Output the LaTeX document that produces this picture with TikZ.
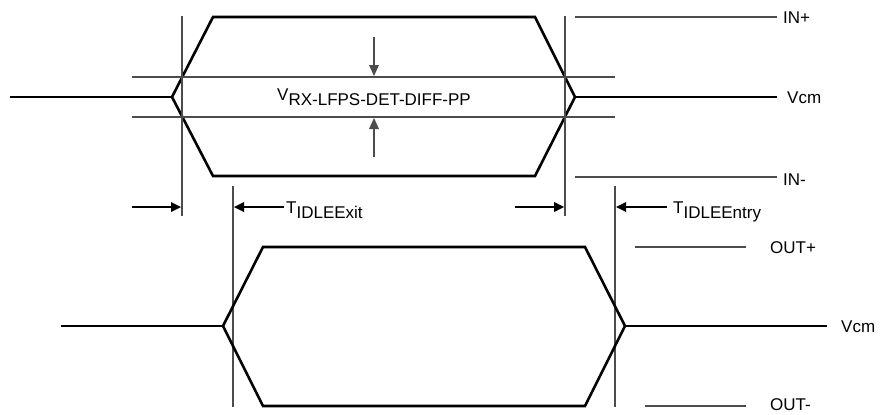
\documentclass[tikz,border=0pt]{standalone}
\usepackage{fontspec}
\setmainfont{Liberation Sans}
\newcommand{\sublow}[1]{\raisebox{-5pt}{#1}}

\begin{document}
\begin{tikzpicture}[x=1pt,y=1pt]
\tikzstyle{every node}+=[inner sep=0pt,font=\fontsize{17}{20}\selectfont]
\tikzstyle{wave}=[black,line width=2.6pt]
\tikzstyle{guide}=[black!70,line width=1.1pt]
\useasboundingbox (0,0) rectangle (881,-415);
% input pair
\draw [wave] (172,-97) -- (213,-17) -- (535,-17) -- (575,-97) -- (535,-176) -- (213,-176) -- cycle;
\draw [wave] (10,-97) -- (172,-97);
\draw [wave] (575,-97) -- (777,-97);
\draw [guide] (575,-17) -- (777,-17);
\draw [guide] (575,-177) -- (777,-177);
\draw [guide] (132,-77) -- (615,-77);
\draw [guide] (132,-117) -- (615,-117);
\draw (783,-18) node [right] (inp) {IN+};
\draw (787,-98) node [right] (vcmin) {Vcm};
\draw (783,-180) node [right] (inn) {IN-};
\draw [guide] (374,-37) -- (374,-66);
\fill [black!70] (374,-76) -- (369,-65) -- (379,-65);
\draw [guide] (374,-157) -- (374,-128);
\fill [black!70] (374,-118) -- (369,-129) -- (379,-129);
\draw (277,-100) node [anchor=base west] (vth) {V\sublow{RX-LFPS-DET-DIFF-PP}};
% time markers
\draw [guide] (182,-16) -- (182,-216);
\draw [guide] (565,-16) -- (565,-216);
\draw [guide] (233,-186) -- (233,-407);
\draw [guide] (615,-186) -- (615,-407);
\draw [black,line width=1.1pt] (132,-207) -- (172,-207);
\fill [black] (181,-207) -- (171,-202) -- (171,-212);
\draw [black,line width=1.1pt] (284,-207) -- (244,-207);
\fill [black] (234,-207) -- (244,-202) -- (244,-212);
\draw (286,-213) node [anchor=base west] (texit) {T\sublow{IDLEExit}};
\draw [black,line width=1.1pt] (515,-207) -- (555,-207);
\fill [black] (564,-207) -- (554,-202) -- (554,-212);
\draw [black,line width=1.1pt] (667,-207) -- (626,-207);
\fill [black] (616,-207) -- (626,-202) -- (626,-212);
\draw (673,-213) node [anchor=base west] (tentry) {T\sublow{IDLEEntry}};
% output pair
\draw [wave] (223,-326) -- (263,-247) -- (585,-247) -- (625,-326) -- (585,-406) -- (263,-406) -- cycle;
\draw [wave] (61,-326) -- (223,-326);
\draw [wave] (625,-326) -- (827,-326);
\draw [guide] (635,-247) -- (746,-247);
\draw [guide] (645,-406) -- (746,-406);
\draw (770,-248) node [right] (outp) {OUT+};
\draw (841,-327) node [right] (vcmout) {Vcm};
\draw (770,-405) node [right] (outn) {OUT-};
\end{tikzpicture}
\end{document}
